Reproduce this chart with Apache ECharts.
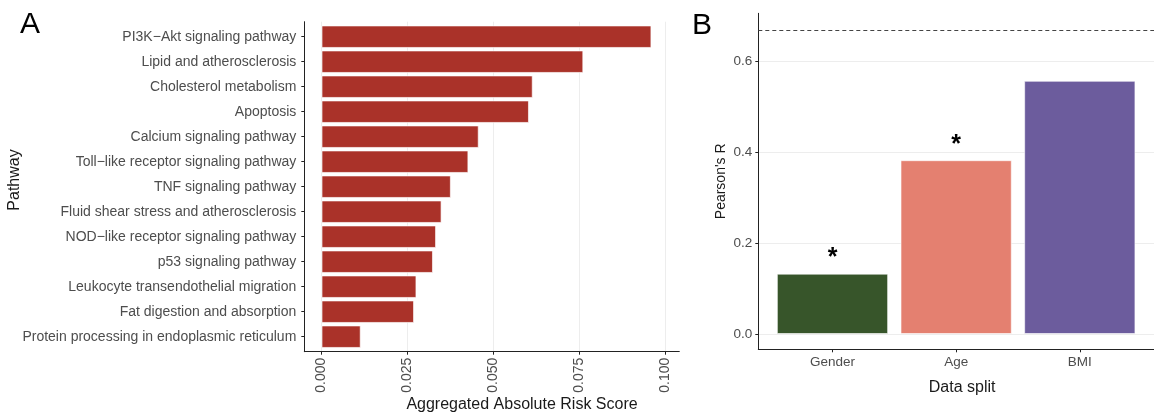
<!DOCTYPE html>
<html>
<head>
<meta charset="utf-8">
<script src="https://cdn.jsdelivr.net/npm/echarts@6/dist/echarts.min.js"></script>
<style>
  html, body { margin: 0; padding: 0; background: #fff; }
  #chart { width: 1154px; height: 412px; }
</style>
</head>
<body>
<div id="chart"></div>
<script>
// Panel A: pathway contributions (top to bottom)
const pathways = [
  'PI3K\u2212Akt signaling pathway',
  'Lipid and atherosclerosis',
  'Cholesterol metabolism',
  'Apoptosis',
  'Calcium signaling pathway',
  'Toll\u2212like receptor signaling pathway',
  'TNF signaling pathway',
  'Fluid shear stress and atherosclerosis',
  'NOD\u2212like receptor signaling pathway',
  'p53 signaling pathway',
  'Leukocyte transendothelial migration',
  'Fat digestion and absorption',
  'Protein processing in endoplasmic reticulum'
];
const riskScores = [0.0959, 0.0761, 0.0614, 0.0603, 0.0457, 0.0427, 0.0376,
                    0.0349, 0.0333, 0.0324, 0.0276, 0.0269, 0.0114];
const riskTicks = [0, 0.025, 0.05, 0.075, 0.1];

// Panel B: correlation per data split
const splits = ['Gender', 'Age', 'BMI'];
const pearsonR = [0.133, 0.383, 0.558];
const significance = ['*', '*', ''];
const rTicks = [0, 0.2, 0.4, 0.6];
const baselineR = 0.673;

const splitColors = ['#37552a', '#e48070', '#6c5c9d'];
const FONT = 'Liberation Sans';
const TICK_TEXT = '#4d4d4d';
const AXIS_COLOR = '#222';

const chart = echarts.init(document.getElementById('chart'), null, { renderer: 'canvas' });

const axisLine = { show: true, onZero: false, lineStyle: { color: AXIS_COLOR, width: 1 } };

const option = {
  backgroundColor: '#fff',
  animation: false,
  textStyle: { fontFamily: FONT },
  grid: [
    // A: bar area (one band per pathway)
    { left: 304.3, top: 24.2, width: 375, height: 325 },
    // A: full panel frame with axes
    { left: 304.3, top: 21.7, width: 375, height: 330 },
    // B
    { left: 758.3, top: 13.3, width: 407.7, height: 336 }
  ],
  xAxis: [
    { gridIndex: 0, type: 'value', min: -0.005, max: 0.104, show: false },
    {
      gridIndex: 1, type: 'value', min: -0.005, max: 0.104,
      axisLine: axisLine,
      axisTick: { show: true, length: 3, customValues: riskTicks, lineStyle: { color: AXIS_COLOR } },
      axisLabel: {
        customValues: riskTicks, rotate: 90, margin: 6,
        fontSize: 14, color: TICK_TEXT, fontFamily: FONT,
        formatter: v => v.toFixed(3)
      },
      splitLine: { show: true, customValues: riskTicks, lineStyle: { color: '#ededed', width: 1 } }
    },
    {
      gridIndex: 2, type: 'value', min: -0.6, max: 2.6,
      axisLine: axisLine,
      axisTick: { show: true, length: 3, customValues: [0, 1, 2], lineStyle: { color: AXIS_COLOR } },
      axisLabel: {
        customValues: [0, 1, 2], margin: 6, fontSize: 13.5, color: TICK_TEXT, fontFamily: FONT,
        formatter: v => splits[Math.round(v)]
      },
      splitLine: { show: false },
      name: 'Data split', nameLocation: 'middle', nameGap: 30,
      nameTextStyle: { fontSize: 16, color: '#1a1a1a', fontFamily: FONT, padding: [0, 0, 0, 12] }
    }
  ],
  yAxis: [
    {
      gridIndex: 0, type: 'category', data: pathways, inverse: true,
      axisLine: { show: false, onZero: false },
      axisTick: { show: true, alignWithLabel: true, length: 3, lineStyle: { color: AXIS_COLOR } },
      axisLabel: { margin: 8, fontSize: 14, color: TICK_TEXT, fontFamily: FONT }
    },
    {
      gridIndex: 1, type: 'value', min: 0, max: 1,
      axisLine: axisLine,
      axisTick: { show: false }, axisLabel: { show: false }, splitLine: { show: false }
    },
    {
      gridIndex: 2, type: 'value', min: -0.0337, max: 0.7067,
      axisLine: axisLine,
      axisTick: { show: true, length: 3, customValues: rTicks, lineStyle: { color: AXIS_COLOR } },
      axisLabel: {
        customValues: rTicks, margin: 6, fontSize: 13.5, color: TICK_TEXT, fontFamily: FONT,
        formatter: v => v.toFixed(1)
      },
      splitLine: { show: true, customValues: rTicks, lineStyle: { color: '#ededed', width: 1 } },
      name: "Pearson's R", nameLocation: 'middle', nameGap: 30,
      nameTextStyle: { fontSize: 14, color: '#1a1a1a', fontFamily: FONT }
    }
  ],
  series: [
    {
      type: 'bar', xAxisIndex: 0, yAxisIndex: 0,
      data: riskScores, barWidth: '90%',
      itemStyle: { color: '#aa3229', borderColor: 'rgba(255,255,255,0.65)', borderWidth: 1 }
    },
    {
      type: 'bar', xAxisIndex: 2, yAxisIndex: 2,
      data: pearsonR.map((r, i) => ({ value: [i, r], itemStyle: { color: splitColors[i] } })),
      barWidth: '90%',
      itemStyle: { borderColor: 'rgba(255,255,255,0.6)', borderWidth: 1 },
      label: {
        show: true, position: 'top', distance: 3,
        formatter: p => significance[p.dataIndex],
        fontSize: 25, fontWeight: 'bold', color: '#000', fontFamily: FONT
      },
      markLine: {
        silent: true, symbol: 'none', label: { show: false },
        lineStyle: { type: [4, 3], color: '#444', width: 1 },
        data: [{ yAxis: baselineR }]
      }
    }
  ],
  graphic: [
    { type: 'text', left: 20, top: 10, style: { text: 'A', fontSize: 30, fontFamily: FONT, fill: '#000' } },
    { type: 'text', left: 692, top: 11, style: { text: 'B', fontSize: 30, fontFamily: FONT, fill: '#000' } },
    {
      type: 'text', x: 15, y: 180, rotation: Math.PI / 2,
      style: { text: 'Pathway', fontSize: 16, fontFamily: FONT, fill: '#1a1a1a',
               align: 'center', verticalAlign: 'middle' }
    },
    {
      type: 'text', x: 522, y: 397,
      style: { text: 'Aggregated Absolute Risk Score', fontSize: 16, fontFamily: FONT, fill: '#1a1a1a',
               align: 'center', verticalAlign: 'top' }
    }
  ]
};

chart.setOption(option);
</script>
</body>
</html>
